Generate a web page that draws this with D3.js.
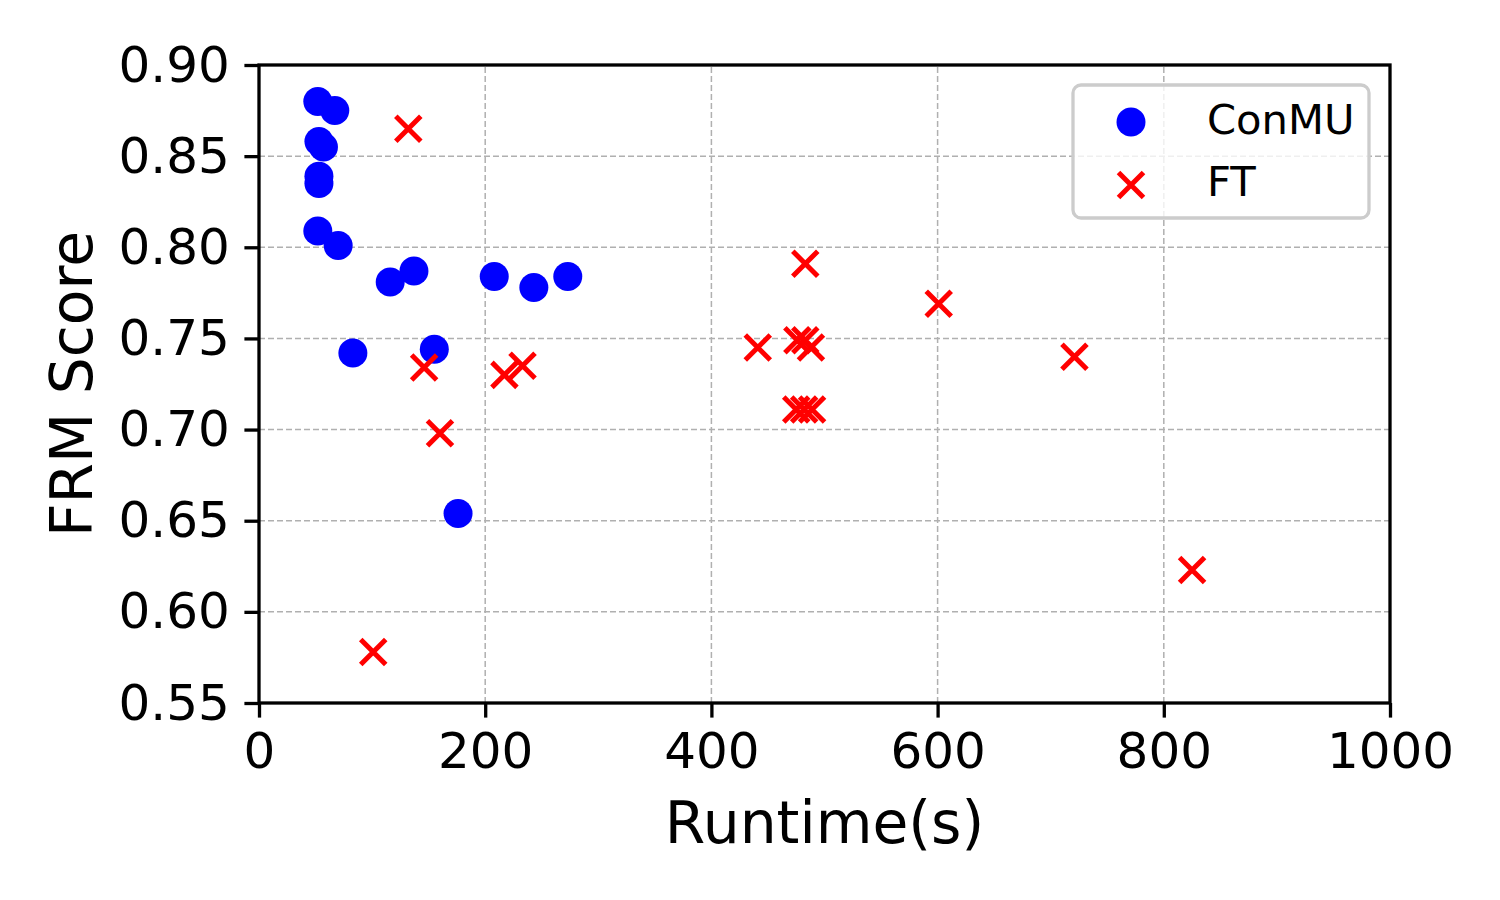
<!DOCTYPE html>
<html>
<head>
<meta charset="utf-8">
<script src="https://cdn.jsdelivr.net/npm/d3@7"></script>
<style>
  body { margin: 0; background: #fff; }
  text { font-family: "DejaVu Sans", sans-serif; fill: #000; }
</style>
</head>
<body>
<div id="chart"></div>
<script>
const width = 1500
const height = 900

// ConMU runs: runtime (s) and FRM score
const conmuRuntime = [52, 67, 53, 57, 53, 53, 52, 70, 116, 137, 208, 243, 273, 83, 155, 176]
const conmuScore   = [0.880, 0.875, 0.858, 0.855, 0.839, 0.835, 0.809, 0.801, 0.781, 0.787, 0.784, 0.778, 0.784, 0.742, 0.744, 0.654]

// FT runs
const ftRuntime = [132, 101, 146, 217, 233, 160, 483, 441, 476, 483, 488, 475, 482, 489, 601, 721, 825]
const ftScore   = [0.865, 0.578, 0.734, 0.730, 0.735, 0.698, 0.791, 0.745, 0.749, 0.749, 0.745, 0.711, 0.711, 0.711, 0.769, 0.740, 0.623]

const xTicks = [0, 200, 400, 600, 800, 1000]
const yTicks = [0.55, 0.60, 0.65, 0.70, 0.75, 0.80, 0.85, 0.90]

const margin = {left: 259, right: 110, top: 65, bottom: 197}

const x = d3.scaleLinear().domain([0, 1000]).range([margin.left, width - margin.right])
const y = d3.scaleLinear().domain([0.55, 0.90]).range([height - margin.bottom, margin.top])

const svg = d3.select("#chart")
              .append("svg")
              .attr("width", width)
              .attr("height", height)

// grid
const grid = svg.append("g").attr("class", "grid")
grid.selectAll("line.gx")
    .data(xTicks.slice(1, -1))
    .enter().append("line")
    .attr("x1", d => x(d)).attr("x2", d => x(d))
    .attr("y1", y(0.55)).attr("y2", y(0.90))
    .attr("stroke", "#b0b0b0").attr("stroke-width", 1.5)
    .attr("stroke-dasharray", "6,3")
grid.selectAll("line.gy")
    .data(yTicks.slice(1, -1))
    .enter().append("line")
    .attr("x1", x(0)).attr("x2", x(1000))
    .attr("y1", d => y(d)).attr("y2", d => y(d))
    .attr("stroke", "#b0b0b0").attr("stroke-width", 1.5)
    .attr("stroke-dasharray", "6,3")

// points
const conmu = conmuRuntime.map((r, i) => ({r: r, s: conmuScore[i]}))
const ft = ftRuntime.map((r, i) => ({r: r, s: ftScore[i]}))

svg.append("g")
   .selectAll("circle")
   .data(conmu)
   .enter().append("circle")
   .attr("cx", d => x(d.r))
   .attr("cy", d => y(d.s))
   .attr("r", 14.5)
   .attr("fill", "#0000ff")

const xSize = 12.5
const cross = d => `M${-xSize},${-xSize}L${xSize},${xSize}M${-xSize},${xSize}L${xSize},${-xSize}`
svg.append("g")
   .selectAll("path")
   .data(ft)
   .enter().append("path")
   .attr("transform", d => `translate(${x(d.r)},${y(d.s)})`)
   .attr("d", cross)
   .attr("stroke", "#ff0000")
   .attr("stroke-width", 5)
   .attr("fill", "none")

// axes
const xAxis = svg.append("g")
   .attr("transform", `translate(0,${y(0.55)})`)
   .call(d3.axisBottom(x).tickValues(xTicks).tickFormat(d3.format("d")).tickSize(14.6).tickPadding(14.6))
const yAxis = svg.append("g")
   .attr("transform", `translate(${x(0)},0)`)
   .call(d3.axisLeft(y).tickValues(yTicks).tickFormat(d3.format(".2f")).tickSize(14.6).tickPadding(14.6))

;[xAxis, yAxis].forEach(a => {
  a.selectAll(".tick line").attr("stroke", "#000").attr("stroke-width", 3.3)
  a.selectAll(".tick text").attr("font-size", 50).attr("font-family", "DejaVu Sans")
  a.select(".domain").remove()
})

// frame
svg.append("rect")
   .attr("x", x(0)).attr("y", y(0.90))
   .attr("width", x(1000) - x(0)).attr("height", y(0.55) - y(0.90))
   .attr("fill", "none").attr("stroke", "#000").attr("stroke-width", 3.3)

// labels
svg.append("text")
   .attr("x", (x(0) + x(1000)) / 2)
   .attr("y", 843)
   .attr("text-anchor", "middle")
   .attr("font-size", 58.3)
   .text("Runtime(s)")

svg.append("text")
   .attr("transform", `translate(92,${(y(0.55) + y(0.90)) / 2}) rotate(-90)`)
   .attr("text-anchor", "middle")
   .attr("font-size", 58.3)
   .text("FRM Score")

// legend
const legend = svg.append("g").attr("id", "legend")
legend.append("rect")
      .attr("x", 1073).attr("y", 85)
      .attr("width", 296).attr("height", 133)
      .attr("rx", 8)
      .attr("fill", "#fff").attr("fill-opacity", 0.8)
      .attr("stroke", "#cccccc").attr("stroke-width", 3.3)

legend.append("circle")
      .attr("cx", 1131).attr("cy", 122).attr("r", 14.5)
      .attr("fill", "#0000ff")
legend.append("path")
      .attr("transform", "translate(1131,185)")
      .attr("d", cross)
      .attr("stroke", "#ff0000").attr("stroke-width", 5).attr("fill", "none")

legend.append("text")
      .attr("x", 1207).attr("y", 134)
      .attr("font-size", 41.7)
      .text("ConMU")
legend.append("text")
      .attr("x", 1207).attr("y", 196)
      .attr("font-size", 41.7)
      .text("FT")
</script>
</body>
</html>
